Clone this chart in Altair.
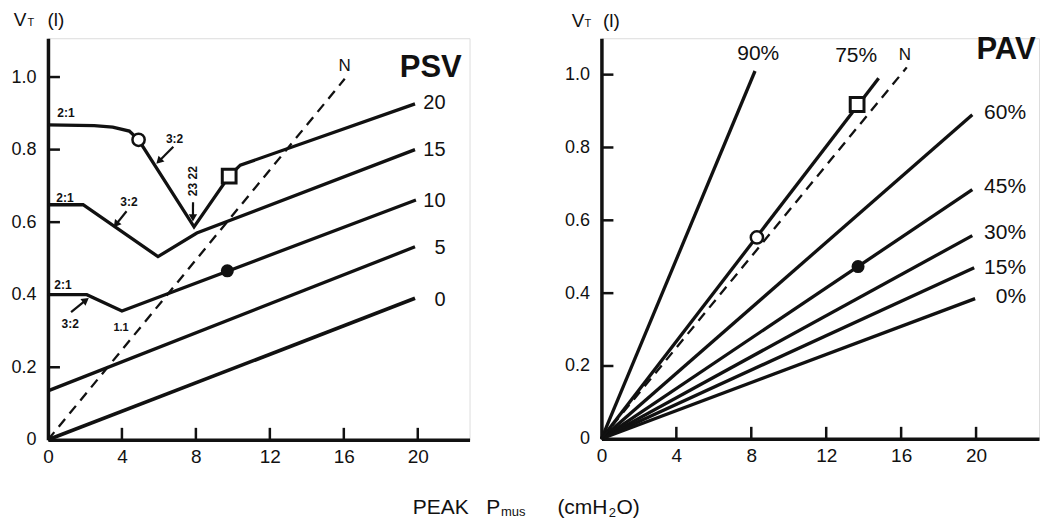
import altair as alt
import pandas as pd

C = "#111111"
FONT = "Liberation Sans"

# ---------------- PSV panel (left) ----------------
psv0_x = [0, 19.85]
psv0_y = [0.0, 0.39]
psv5_x = [0, 19.85]
psv5_y = [0.135, 0.532]
psv10_x = [0, 2.1, 4.0, 19.9]
psv10_y = [0.40, 0.40, 0.355, 0.661]
psv15_x = [0, 1.9, 5.95, 8.05, 19.85]
psv15_y = [0.648, 0.648, 0.505, 0.57, 0.80]
psv20_x = [0, 2.5, 3.5, 4.4, 4.9, 7.9, 9.8, 10.4, 19.85]
psv20_y = [0.868, 0.866, 0.862, 0.851, 0.827, 0.587, 0.727, 0.757, 0.926]
psvN_x = [0, 16.05]
psvN_y = [0.0, 0.995]

psv_labels = ["20", "15", "10", "5", "0"]
psv_label_y = [0.928, 0.80, 0.658, 0.529, 0.386]

psv_open_circle = (4.9, 0.827)
psv_square = (9.8, 0.727)
psv_dot = (9.7, 0.466)

ann_bold_text = ["2:1", "2:1", "2:1", "3:2", "3:2", "3:2"]
ann_bold_x = [0.97, 0.92, 0.81, 6.85, 4.38, 1.2]
ann_bold_y = [0.90, 0.667, 0.427, 0.83, 0.655, 0.318]

# arrows: start -> end (head at end), head angle (clockwise from up)
arrow_x1 = [6.78, 4.25, 1.25, 7.845]
arrow_y1 = [0.808, 0.630, 0.352, 0.655]
arrow_x2 = [6.00, 3.68, 2.05, 7.84]
arrow_y2 = [0.768, 0.594, 0.385, 0.612]
arrow_angle = [225, 219, 53, 180]

# ---------------- PAV panel (right) ----------------
pav_series = ["90%", "75%", "60%", "45%", "30%", "15%", "0%"]
pav_end_x = [8.2, 14.8, 19.8, 19.8, 19.8, 19.9, 19.95]
pav_end_y = [1.01, 0.99, 0.89, 0.684, 0.558, 0.47, 0.385]
pavN_x = [0, 16.3]
pavN_y = [0.0, 1.02]

pav_side_labels = ["60%", "45%", "30%", "15%", "0%"]
pav_side_y = [0.896, 0.692, 0.566, 0.47, 0.39]
pav_top_labels = ["90%", "75%"]
pav_top_x = [8.37, 13.6]
pav_top_y = [1.058, 1.052]

pav_open_circle = (8.3, 0.553)
pav_square = (13.65, 0.918)
pav_dot = (13.7, 0.473)

x_ticks = [0, 4, 8, 12, 16, 20]
y_ticks = [0, 0.2, 0.4, 0.6, 0.8, 1.0]

# ---------------- geometry ----------------
WL, HL = 422, 402
WR, HR = 438, 401
xsL = alt.Scale(domain=[0, 22.8], nice=False, zero=False)
ysL = alt.Scale(domain=[0, 1.107], nice=False, zero=False)
xsR = alt.Scale(domain=[0, 23.36], nice=False, zero=False)
ysR = alt.Scale(domain=[0, 1.10], nice=False, zero=False)

ax_x = alt.Axis(values=x_ticks, title=None, grid=False, ticks=False, tickSize=0,
                labelPadding=8, labelFontSize=19, labelFont=FONT, labelColor=C,
                domainColor=C, domainWidth=3.5, labelFlush=False)
ax_y = alt.Axis(values=y_ticks, title=None, grid=False, ticks=False, tickSize=0,
                labelPadding=12, labelFontSize=18, labelFont=FONT, labelColor=C,
                domainColor=C, domainWidth=3.5,
                labelExpr="datum.value == 0 ? '0' : format(datum.value, '.1f')")


def X(scale, f="x"):
    return alt.X(f"{f}:Q", scale=scale, axis=ax_x)


def Y(scale, f="y"):
    return alt.Y(f"{f}:Q", scale=scale, axis=ax_y)


def rows(name, xs, ys):
    return [dict(series=name, x=a, y=b, o=i) for i, (a, b) in enumerate(zip(xs, ys))]


def text_layer(df, xs, ys, **kw):
    base = dict(font=FONT, color=C, baseline="middle", align="center")
    base.update(kw)
    return alt.Chart(df).mark_text(**base).encode(x=X(xs), y=Y(ys), text="t:N")


def tick_layer(xs, ys, px_x, px_y):
    # inward ticks: short segments starting on each axis, ~12 px long
    df = pd.DataFrame({
        "x": x_ticks[1:] + [0.0] * (len(y_ticks) - 1),
        "y": [0.0] * (len(x_ticks) - 1) + y_ticks[1:],
        "x2": x_ticks[1:] + [12 / px_x] * (len(y_ticks) - 1),
        "y2": [12 / px_y] * (len(x_ticks) - 1) + y_ticks[1:],
    })
    return alt.Chart(df).mark_rule(color=C, strokeWidth=2.5).encode(
        x=X(xs), y=Y(ys), x2="x2:Q", y2="y2:Q")


def markers(xs, ys, oc, sq, dot):
    l1 = alt.Chart(pd.DataFrame({"x": [oc[0]], "y": [oc[1]]})).mark_point(
        shape="circle", filled=True, fill="white", stroke=C, strokeWidth=2.5,
        size=150, opacity=1).encode(x=X(xs), y=Y(ys))
    l2 = alt.Chart(pd.DataFrame({"x": [sq[0]], "y": [sq[1]]})).mark_point(
        shape="square", filled=True, fill="white", stroke=C, strokeWidth=3,
        size=190, opacity=1).encode(x=X(xs), y=Y(ys))
    l3 = alt.Chart(pd.DataFrame({"x": [dot[0]], "y": [dot[1]]})).mark_point(
        shape="circle", filled=True, fill=C, size=170, opacity=1).encode(x=X(xs), y=Y(ys))
    return [l1, l2, l3]


# ---------------- left chart ----------------
psv_df = pd.DataFrame(
    rows("5", psv5_x, psv5_y) + rows("10", psv10_x, psv10_y)
    + rows("15", psv15_x, psv15_y) + rows("20", psv20_x, psv20_y))
psv0_df = pd.DataFrame(rows("0", psv0_x, psv0_y))
psvN_df = pd.DataFrame(rows("N", psvN_x, psvN_y))

L_lines = alt.Chart(psv_df).mark_line(color=C, strokeWidth=3.3).encode(
    x=X(xsL), y=Y(ysL), detail="series:N", order="o:Q")
L_zero = alt.Chart(psv0_df).mark_line(color=C, strokeWidth=3.7).encode(
    x=X(xsL), y=Y(ysL), order="o:Q")
L_dash = alt.Chart(psvN_df).mark_line(color=C, strokeWidth=2.3, strokeDash=[10, 7]).encode(
    x=X(xsL), y=Y(ysL), order="o:Q")

arr_df = pd.DataFrame({"x": arrow_x1, "y": arrow_y1, "x2": arrow_x2, "y2": arrow_y2})
L_seg = alt.Chart(arr_df).mark_rule(color=C, strokeWidth=2.2).encode(
    x=X(xsL), y=Y(ysL), x2="x2:Q", y2="y2:Q")

head_df = pd.DataFrame({"x": arrow_x2, "y": arrow_y2, "a": arrow_angle})
L_arr_head = alt.Chart(head_df).mark_point(
    shape="triangle-up", filled=True, color=C, size=70, opacity=1).encode(
    x=X(xsL), y=Y(ysL), angle=alt.Angle("a:Q", scale=None))

L_lab = text_layer(pd.DataFrame({"x": [21.5] * 5, "y": psv_label_y, "t": psv_labels}),
                   xsL, ysL, fontSize=20, align="right")
L_ann = text_layer(pd.DataFrame({"x": ann_bold_x, "y": ann_bold_y, "t": ann_bold_text}),
                   xsL, ysL, fontSize=12, fontWeight="bold")
L_11 = text_layer(pd.DataFrame({"x": [3.95], "y": [0.309], "t": ["1.1"]}),
                  xsL, ysL, fontSize=11, fontWeight="bold")
L_2322 = text_layer(pd.DataFrame({"x": [7.84], "y": [0.713], "t": ["23 22"]}),
                    xsL, ysL, fontSize=12, fontWeight="bold", angle=270)
L_N = text_layer(pd.DataFrame({"x": [16.05], "y": [1.03], "t": ["N"]}),
                 xsL, ysL, fontSize=17)
L_PSV = text_layer(pd.DataFrame({"x": [20.7], "y": [1.025], "t": ["PSV"]}),
                   xsL, ysL, fontSize=31, fontWeight="bold")
# y-axis title V_T (l)
L_V = text_layer(pd.DataFrame({"x": [-1.51], "y": [1.14], "t": ["V"]}),
                 xsL, ysL, fontSize=19, baseline="alphabetic")
L_T = text_layer(pd.DataFrame({"x": [-0.92], "y": [1.14], "t": ["T"]}),
                 xsL, ysL, fontSize=11, baseline="alphabetic")
L_l = text_layer(pd.DataFrame({"x": [0.43], "y": [1.14], "t": ["(l)"]}),
                 xsL, ysL, fontSize=19, baseline="alphabetic")
# shared x-axis title: PEAK P_mus (cmH2O)
t_main = pd.DataFrame({"x": [19.73, 23.7, 27.55, 30.75], "y": [-0.205] * 4,
                       "t": ["PEAK", "P", "(cmH", "O)"]})
t_sub = pd.DataFrame({"x": [24.5, 30.33], "y": [-0.21, -0.214], "t": ["mus", "2"]})
L_tt1 = text_layer(t_main, xsL, ysL, fontSize=21, align="left", baseline="alphabetic")
L_tt2 = text_layer(t_sub, xsL, ysL, fontSize=13, align="left", baseline="alphabetic")

left = alt.layer(
    L_lines, L_zero, L_dash,
    *markers(xsL, ysL, psv_open_circle, psv_square, psv_dot),
    L_seg, L_arr_head, tick_layer(xsL, ysL, WL / 22.8, HL / 1.107),
    L_lab, L_ann, L_11, L_2322, L_N, L_PSV, L_V, L_T, L_l, L_tt1, L_tt2
).properties(width=WL, height=HL)

# ---------------- right chart ----------------
pav_rows = []
for s, ex, ey in zip(pav_series, pav_end_x, pav_end_y):
    pav_rows += rows(s, [0, ex], [0.0, ey])
pav_df = pd.DataFrame(pav_rows)
pavN_df = pd.DataFrame(rows("N", pavN_x, pavN_y))

R_lines = alt.Chart(pav_df).mark_line(color=C, strokeWidth=3.3).encode(
    x=X(xsR), y=Y(ysR), detail="series:N", order="o:Q")
R_dash = alt.Chart(pavN_df).mark_line(color=C, strokeWidth=2.3, strokeDash=[10, 7]).encode(
    x=X(xsR), y=Y(ysR), order="o:Q")
R_side = text_layer(pd.DataFrame({"x": [22.67] * 5, "y": pav_side_y, "t": pav_side_labels}),
                    xsR, ysR, fontSize=21, align="right")
R_top = text_layer(pd.DataFrame({"x": pav_top_x, "y": pav_top_y, "t": pav_top_labels}),
                   xsR, ysR, fontSize=21)
R_N = text_layer(pd.DataFrame({"x": [16.2], "y": [1.055], "t": ["N"]}),
                 xsR, ysR, fontSize=17)
R_PAV = text_layer(pd.DataFrame({"x": [21.6], "y": [1.068], "t": ["PAV"]}),
                   xsR, ysR, fontSize=31, fontWeight="bold")
R_V = text_layer(pd.DataFrame({"x": [-1.25], "y": [1.132], "t": ["V"]}),
                 xsR, ysR, fontSize=19, baseline="alphabetic")
R_T = text_layer(pd.DataFrame({"x": [-0.72], "y": [1.132], "t": ["T"]}),
                 xsR, ysR, fontSize=11, baseline="alphabetic")
R_l = text_layer(pd.DataFrame({"x": [0.53], "y": [1.132], "t": ["(l)"]}),
                 xsR, ysR, fontSize=19, baseline="alphabetic")

right = alt.layer(
    R_lines, R_dash,
    *markers(xsR, ysR, pav_open_circle, pav_square, pav_dot),
    tick_layer(xsR, ysR, WR / 23.36, HR / 1.10),
    R_side, R_top, R_N, R_PAV, R_V, R_T, R_l
).properties(width=WR, height=HR)

chart = alt.hconcat(left, right, spacing=132, bounds="flush").properties(
    padding={"left": 2, "top": 2, "right": 0, "bottom": 0}
).configure_view(strokeWidth=0).configure(background="white")

chart.save("out.html", embed_options={"renderer": "svg", "actions": False})
